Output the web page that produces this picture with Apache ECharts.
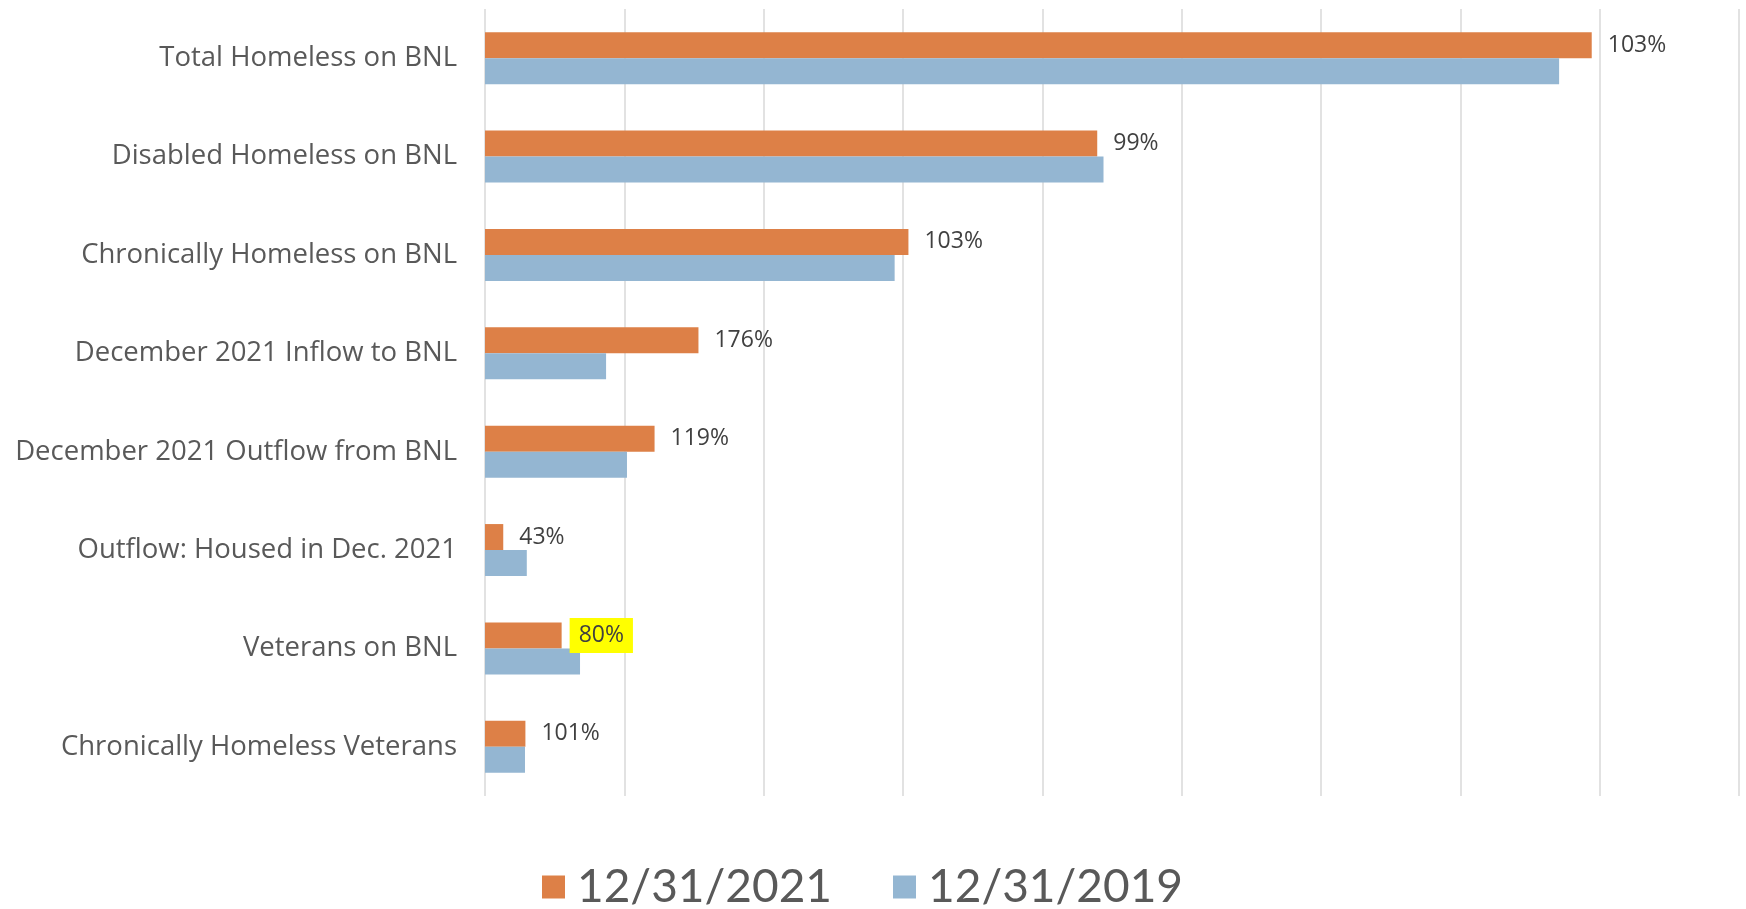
<!DOCTYPE html>
<html>
<head>
<meta charset="utf-8">
<script src="https://cdn.jsdelivr.net/npm/echarts@6/dist/echarts.min.js"></script>
<style>
html,body{margin:0;padding:0;background:#fff;}
#chart{width:1746px;height:909px;}
</style>
</head>
<body>
<div id="chart"></div>
<script>
// Data (units: arbitrary, gridline = 1000)
const categories = [
  "Total Homeless on BNL",
  "Disabled Homeless on BNL",
  "Chronically Homeless on BNL",
  "December 2021 Inflow to BNL",
  "December 2021 Outflow from BNL",
  "Outflow: Housed in Dec. 2021",
  "Veterans on BNL",
  "Chronically Homeless Veterans"
];
const values2021 = [7943, 4394, 3039, 1532, 1217, 131, 550, 290];
const values2019 = [7709, 4439, 2940, 869, 1019, 300, 682, 287];
const ratioLabels = ["103%", "99%", "103%", "176%", "119%", "43%", "80%", "101%"];
const seriesNames = ["12/31/2021", "12/31/2019"];
const highlightedIndex = 6;

const chart = echarts.init(document.getElementById('chart'));

const data2021 = values2021.map((v, i) => {
  const item = { value: v };
  if (i === highlightedIndex) {
    item.label = { backgroundColor: '#ffff00', padding: [6, 9, 6, 9], distance: 8 };
  }
  return item;
});

chart.setOption({
  animation: false,
  backgroundColor: '#ffffff',
  grid: { left: 485, right: 7, top: 9, bottom: 113, containLabel: false },
  xAxis: {
    type: 'value', min: 0, max: 9000, interval: 1000,
    axisLabel: { show: false }, axisTick: { show: false }, axisLine: { show: false },
    splitLine: { show: true, lineStyle: { color: '#d9d9d9', width: 1.5 } }
  },
  yAxis: {
    type: 'category', inverse: true, data: categories,
    axisLine: { show: false }, axisTick: { show: false },
    axisLabel: { margin: 28, fontFamily: 'Open Sans', fontSize: 27.5, color: '#595959', padding: [8, 0, 0, 0] }
  },
  legend: {
    top: 859, left: 537,
    itemWidth: 23, itemHeight: 23, itemGap: 61,
    icon: 'rect',
    textStyle: { fontFamily: 'Lato', fontSize: 46, color: '#595959', padding: [0, 0, 0, 7] },
    data: seriesNames
  },
  series: [
    {
      name: seriesNames[0], type: 'bar', data: data2021,
      barWidth: 26, barGap: '0%',
      itemStyle: { color: '#dd8047' },
      label: {
        show: true, position: 'right', distance: 16,
        fontFamily: 'Open Sans', fontSize: 23, color: '#404040',
        padding: [3, 0, 0, 0],
        formatter: p => ratioLabels[p.dataIndex]
      }
    },
    {
      name: seriesNames[1], type: 'bar', data: values2019,
      barWidth: 26, barGap: '0%',
      itemStyle: { color: '#94b6d2' }
    }
  ]
});
</script>
</body>
</html>
